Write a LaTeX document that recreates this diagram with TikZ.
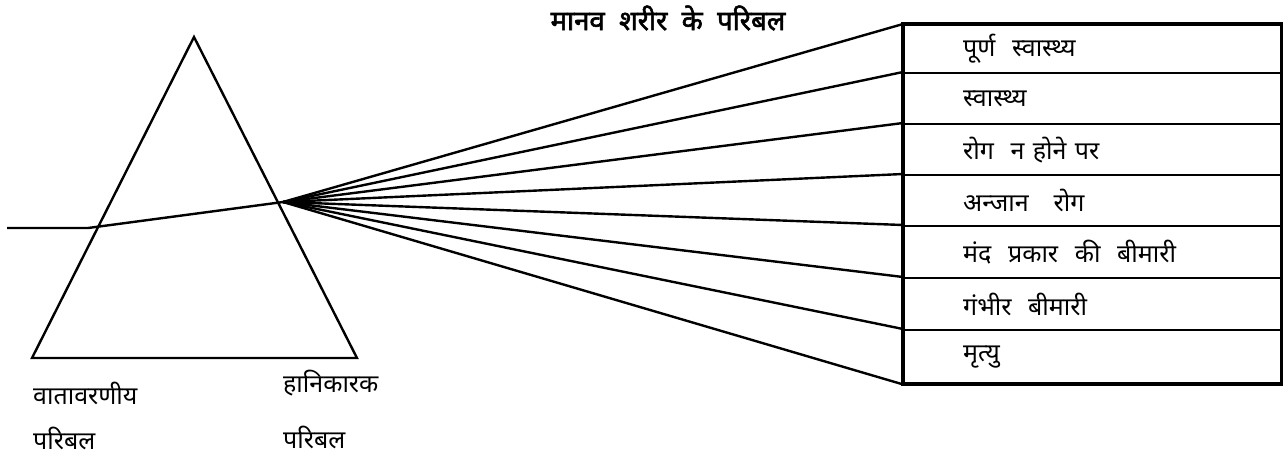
\documentclass[tikz,border=0pt]{standalone}
\usepackage{fontspec}
\newfontfamily\dev[Script=Devanagari]{Noto Sans}
\newfontfamily\devbold[Script=Devanagari,FakeBold=2]{Noto Sans}
\begin{document}
\begin{tikzpicture}[x=1pt,y=-1pt,
  lbl/.style={font=\dev\fontsize{25}{28}\selectfont, inner sep=0pt, anchor=west},
  row/.style={draw, line width=2.4pt, minimum width=377pt, anchor=north west, inner sep=0pt,
     text width=259pt, align=left, font=\dev\fontsize{25}{28}\selectfont},
  ray/.style={line width=2.4pt, line join=round}]
\useasboundingbox (0,0) rectangle (1283,456);
% prism
\coordinate (A) at (194,37);
\coordinate (B) at (32,358);
\coordinate (C) at (357,358);
\draw[line width=2.4pt, line join=miter] (A) -- (B) -- (C) -- cycle;
% incoming ray
\coordinate (S) at (7,228);
\coordinate (K) at (88,228);
\coordinate (F) at (283,202);
\draw[ray] (S) -- (K) -- (F);
% rows
\node[row, minimum height=48pt] (r1) at (903,24) {पूर्ण\ \ स्वास्थ्य};
\node[row, minimum height=51pt] (r2) at (903,72) {स्वास्थ्य};
\node[row, minimum height=51pt] (r3) at (903,123) {रोग\ \ न होने पर};
\node[row, minimum height=51pt] (r4) at (903,174) {अन्जान\ \ \ रोग};
\node[row, minimum height=52pt] (r5) at (903,225) {मंद\ \ प्रकार\ \ की\ \ बीमारी};
\node[row, minimum height=52pt] (r6) at (903,277) {गंभीर\ \ बीमारी};
\node[row, minimum height=53pt] (r7) at (903,329) {मृत्यु};
\draw[line width=3.2pt] (r1.north west) rectangle (r7.south east);
% fan
\foreach \r in {r1,r2,r3,r4,r5,r6,r7} \draw[ray] (F) -- (\r.north west);
\draw[ray] (F) -- (r7.south west);
% title and labels
\node[font=\devbold\fontsize{27.5}{30}\selectfont, inner sep=0pt] (title) at (668,18) {मानव\ \ शरीर\ \ के\ \ परिबल};
\node[lbl] (l1) at (33,393) {वातावरणीय};
\node[lbl] (l2) at (33,438) {परिबल};
\node[lbl] (l3) at (283,383) {हानिकारक};
\node[lbl] (l4) at (283,437) {परिबल};
\end{tikzpicture}
\end{document}
